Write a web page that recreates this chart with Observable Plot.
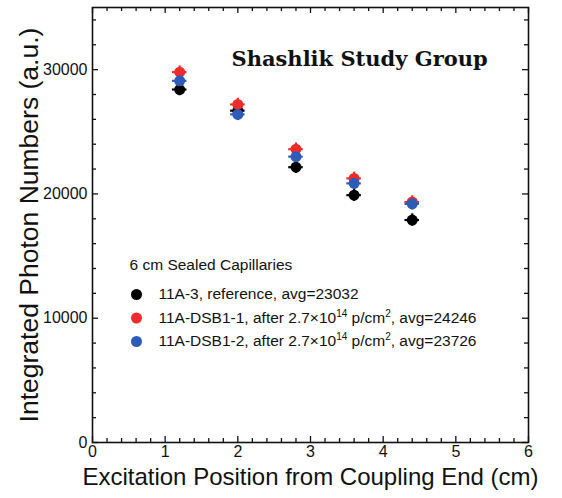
<!DOCTYPE html>
<html>
<head>
<meta charset="utf-8">
<script src="https://cdn.jsdelivr.net/npm/d3@7"></script>
<script src="https://cdn.jsdelivr.net/npm/@observablehq/plot@0.6"></script>
<style>
  html, body { margin: 0; padding: 0; background: #fff; }
  #chart svg { display: block; }
</style>
</head>
<body>
<div id="chart"></div>
<script>
// ---- data ----
const positions = [1.2, 2.0, 2.8, 3.6, 4.4];            // cm
const refValues = [28400, 26700, 22150, 19900, 17900];   // 11A-3
const dsb1Values = [29800, 27200, 23600, 21250, 19350];  // 11A-DSB1-1
const dsb2Values = [29100, 26400, 23000, 20850, 19200];  // 11A-DSB1-2
const xErrors = [0.1, 0.1, 0.1, 0.1, 0.1];
const yErrors = [500, 500, 500, 500, 500];
const seriesNames = ["11A-3", "11A-DSB1-1", "11A-DSB1-2"];
const seriesColors = ["#000000", "#ee2b2b", "#2c5cb8"];
const legendLabels = [
  "11A-3, reference, avg=23032",
  "11A-DSB1-1, after 2.7×10^{14} p/cm^{2}, avg=24246",
  "11A-DSB1-2, after 2.7×10^{14} p/cm^{2}, avg=23726"
];
const legendTitle = "6 cm Sealed Capillaries";
const chartTitle = "Shashlik Study Group";
const xTicks = [0, 1, 2, 3, 4, 5, 6];
const yTicks = [0, 10000, 20000, 30000];
const xMinorTicks = d3.range(0, 6.0001, 0.2).map(v => +v.toFixed(1)).filter(v => !xTicks.includes(v));
const yMinorTicks = d3.range(0, 35001, 2000).filter(v => !yTicks.includes(v));
const xLabel = "Excitation Position from Coupling End (cm)";
const yLabel = "Integrated Photon Numbers (a.u.)";

const seriesValues = [refValues, dsb1Values, dsb2Values];
const points = seriesValues.flatMap((vals, s) => vals.map((v, i) => ({
  series: seriesNames[s], x: positions[i], y: v, xe: xErrors[i], ye: yErrors[i]
})));

const W = 562, H = 498;
const ml = 92, mr = 34, mt = 7, mb = 56;
const xDom = [0, 6], yDom = [0, 35000];
const pxPerY = (H - mt - mb) / (yDom[1] - yDom[0]);
const pxPerX = (W - ml - mr) / (xDom[1] - xDom[0]);
const majorLen = 6, minorLen = 4;

const font = "Liberation Sans, Arial, Helvetica, sans-serif";

const tickMarks = [];
for (const [ticks, len] of [[xTicks, majorLen], [xMinorTicks, minorLen]]) {
  tickMarks.push(Plot.ruleX(ticks, {x: d => d, y1: yDom[0], y2: yDom[0] + len / pxPerY, stroke: "#111", strokeWidth: 1.3}));
  tickMarks.push(Plot.ruleX(ticks, {x: d => d, y1: yDom[1], y2: yDom[1] - len / pxPerY, stroke: "#111", strokeWidth: 1.3}));
}
for (const [ticks, len] of [[yTicks, majorLen], [yMinorTicks, minorLen]]) {
  tickMarks.push(Plot.ruleY(ticks, {y: d => d, x1: xDom[0], x2: xDom[0] + len / pxPerX, stroke: "#111", strokeWidth: 1.3}));
  tickMarks.push(Plot.ruleY(ticks, {y: d => d, x1: xDom[1], x2: xDom[1] - len / pxPerX, stroke: "#111", strokeWidth: 1.3}));
}

const colorOf = Object.fromEntries(seriesNames.map((n, i) => [n, seriesColors[i]]));

const legendFont = 15.5;
const legendMarks = legendLabels.flatMap((t, i) => [
  Plot.dot([t], {frameAnchor: "top-left", dx: 44, dy: 287 + i * 23.5, r: 5.5, fill: seriesColors[i]}),
  Plot.text([t], {frameAnchor: "top-left", dx: 66, dy: 287 + i * 23.5, text: d => d, textAnchor: "start", lineAnchor: "middle", fontSize: legendFont, fill: "#111"})
]);

const chart = Plot.plot({
  width: W, height: H,
  marginLeft: ml, marginRight: mr, marginTop: mt, marginBottom: mb,
  style: {fontFamily: font, background: "#fff", color: "#111"},
  x: {domain: xDom, axis: null},
  y: {domain: yDom, axis: null},
  marks: [
    ...tickMarks,
    Plot.frame({stroke: "#111", strokeWidth: 1.6}),
    Plot.axisX({ticks: xTicks, tickSize: 0, tickPadding: 3, fontSize: 16, tickFormat: d => String(d), label: null}),
    Plot.axisY({ticks: yTicks, tickSize: 0, tickPadding: 5, fontSize: 16, tickFormat: d => String(d), label: null}),
    // error bars
    Plot.ruleY(points, {y: "y", x1: d => d.x - d.xe, x2: d => d.x + d.xe, stroke: d => colorOf[d.series], strokeWidth: 2.2}),
    Plot.ruleX(points, {x: "x", y1: d => d.y - d.ye, y2: d => d.y + d.ye, stroke: d => colorOf[d.series], strokeWidth: 2.2}),
    Plot.dot(points, {x: "x", y: "y", r: 5.5, fill: d => colorOf[d.series], stroke: "none"}),
    // title
    Plot.text([chartTitle], {frameAnchor: "top-left", dx: 139, dy: 58, text: d => d, textAnchor: "start", lineAnchor: "bottom",
      fontFamily: "DejaVu Serif, Liberation Serif, serif", fontWeight: "bold", fontSize: 21, fill: "#111"}),
    // legend
    Plot.text([legendTitle], {frameAnchor: "top-left", dx: 37, dy: 258, text: d => d, textAnchor: "start", lineAnchor: "middle", fontSize: legendFont, fill: "#111"}),
    ...legendMarks,
    // axis labels
    Plot.text([xLabel], {frameAnchor: "bottom", dy: 35, text: d => d, textAnchor: "middle", lineAnchor: "middle", fontSize: 24, fill: "#111"}),
    Plot.text([yLabel], {frameAnchor: "left", dx: -63, rotate: -90, text: d => d, textAnchor: "middle", lineAnchor: "middle", fontSize: 26.5, fill: "#111"})
  ]
});

// render ^{...} as real superscripts
d3.select(chart).selectAll("text").each(function () {
  const s = this.textContent;
  if (!s.includes("^{")) return;
  const el = d3.select(this);
  el.text(null);
  const parts = s.split(/\^\{([^}]*)\}/);
  let raised = false;
  parts.forEach((p, k) => {
    if (!p) return;
    const sup = k % 2 === 1;
    const ts = el.append("tspan").text(p);
    if (sup) {
      ts.attr("font-size", 10).attr("dy", raised ? 0 : -6);
      raised = true;
    } else {
      if (raised) ts.attr("dy", 6);
      raised = false;
    }
  });
});
document.getElementById("chart").appendChild(chart);
</script>
</body>
</html>
